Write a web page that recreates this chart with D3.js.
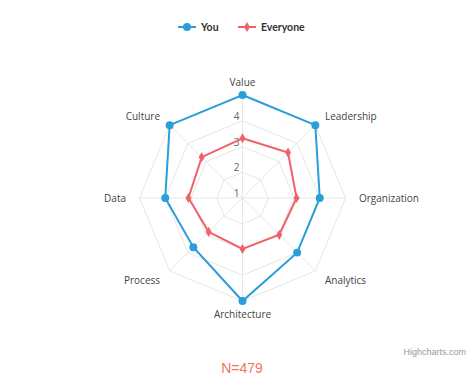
<!DOCTYPE html>
<html><head><meta charset="utf-8">
<script src="https://cdn.jsdelivr.net/npm/d3@7"></script>
<style>body{margin:0;background:#fff}svg{display:block}</style>
</head><body><div id="c"></div>
<script>
const categories = ["Value","Leadership","Organization","Analytics","Architecture","Process","Data","Culture"];
const youValues = [5, 5, 4, 4, 5, 3.7, 4, 5];
const everyoneValues = [3.32, 3.5, 3.1, 3.02, 2.98, 2.86, 3.1, 3.24];
const tickValues = [1, 2, 3, 4, 5];
const tickLabels = ["1", "2", "3", "4"];
const seriesNames = ["You", "Everyone"];
const subtitle = "N=479";

const W = 475, H = 390, cx = 242.5, cy = 198, R = 103;
const blue = "#2a9ddb", red = "#f0616a";
const svg = d3.select("#c").append("svg").attr("width", W).attr("height", H);
const font = "'Open Sans', Arial, sans-serif";

const r = d3.scaleLinear().domain([1, 5]).range([0, R]);
const ang = d3.scalePoint().domain(categories).range([0, 2*Math.PI*(categories.length-1)/categories.length]);
const pt = (c, v) => { const a = ang(c); return [cx + r(v)*Math.sin(a), cy - r(v)*Math.cos(a)]; };

// grid rings
tickValues.slice(1).forEach(t => {
  svg.append("polygon").attr("points", categories.map(c => pt(c, t).join(",")).join(" "))
    .attr("fill", "none").attr("stroke", "#e6e6e6").attr("stroke-width", 1);
});
// spokes
categories.forEach(c => {
  const p = pt(c, 5);
  svg.append("line").attr("x1", cx).attr("y1", cy).attr("x2", p[0]).attr("y2", p[1])
    .attr("stroke", "#e6e6e6").attr("stroke-width", 1);
});
// tick labels
tickLabels.forEach((l, i) => {
  svg.append("text").attr("x", cx - 3).attr("y", cy - r(tickValues[i]) - 1)
    .attr("text-anchor", "end").attr("font-family", font).attr("font-size", 10)
    .attr("fill", "#666").text(l);
});
// category labels
categories.forEach(c => {
  const a = ang(c), s = Math.sin(a), co = Math.cos(a);
  const p = [cx + (R + 15)*s, cy - (R + 15)*co];
  const anchor = Math.abs(s) < 0.01 ? "middle" : (s > 0 ? "start" : "end");
  const dx = Math.abs(co) < 0.01 ? (s > 0 ? -1.5 : 1.5) : (anchor === "middle" ? 0 : (s > 0 ? -1 : 1));
  const dy = 3.8 + 2*co;
  svg.append("text").attr("x", p[0] + dx).attr("y", p[1] + dy)
    .attr("text-anchor", anchor).attr("font-family", font).attr("font-size", 10)
    .attr("fill", "#444").text(c);
});

const line = d3.lineRadial().angle(d => ang(d.c)).radius(d => r(d.v)).curve(d3.curveLinearClosed);
function series(vals, color, symbol) {
  const data = categories.map((c, i) => ({c, v: vals[i]}));
  svg.append("path").attr("transform", `translate(${cx},${cy})`).attr("d", line(data))
    .attr("fill", "none").attr("stroke", color).attr("stroke-width", 2);
  data.forEach(d => {
    const p = pt(d.c, d.v);
    svg.append("path").attr("transform", `translate(${p[0]},${p[1]})`)
      .attr("d", d3.symbol().type(symbol).size(symbol === d3.symbolCircle ? 50 : 30)())
      .attr("fill", color);
  });
}
series(everyoneValues, red, d3.symbolDiamond);
series(youValues, blue, d3.symbolCircle);

// legend
const leg = [{name: seriesNames[0], color: blue, sym: d3.symbolCircle, x: 178},
             {name: seriesNames[1], color: red, sym: d3.symbolDiamond, x: 238}];
leg.forEach(l => {
  svg.append("line").attr("x1", l.x).attr("x2", l.x + 18).attr("y1", 27).attr("y2", 27)
    .attr("stroke", l.color).attr("stroke-width", 2);
  svg.append("path").attr("transform", `translate(${l.x + 9},27)`)
    .attr("d", d3.symbol().type(l.sym).size(l.sym === d3.symbolCircle ? 50 : 30)()).attr("fill", l.color);
  svg.append("text").attr("x", l.x + 23).attr("y", 31).attr("font-family", "Lato, 'Open Sans', sans-serif")
    .attr("font-size", 10.5).attr("font-weight", "bold").attr("fill", "#333").text(l.name);
});

svg.append("text").attr("x", 466).attr("y", 355).attr("text-anchor", "end")
  .attr("font-family", "Arial, sans-serif").attr("font-size", 9).attr("fill", "#999").text("Highcharts.com");
svg.append("text").attr("x", 242).attr("y", 373).attr("text-anchor", "middle")
  .attr("font-family", "Arial, sans-serif").attr("font-size", 14).attr("fill", "#f6735d").text(subtitle);
</script></body></html>
